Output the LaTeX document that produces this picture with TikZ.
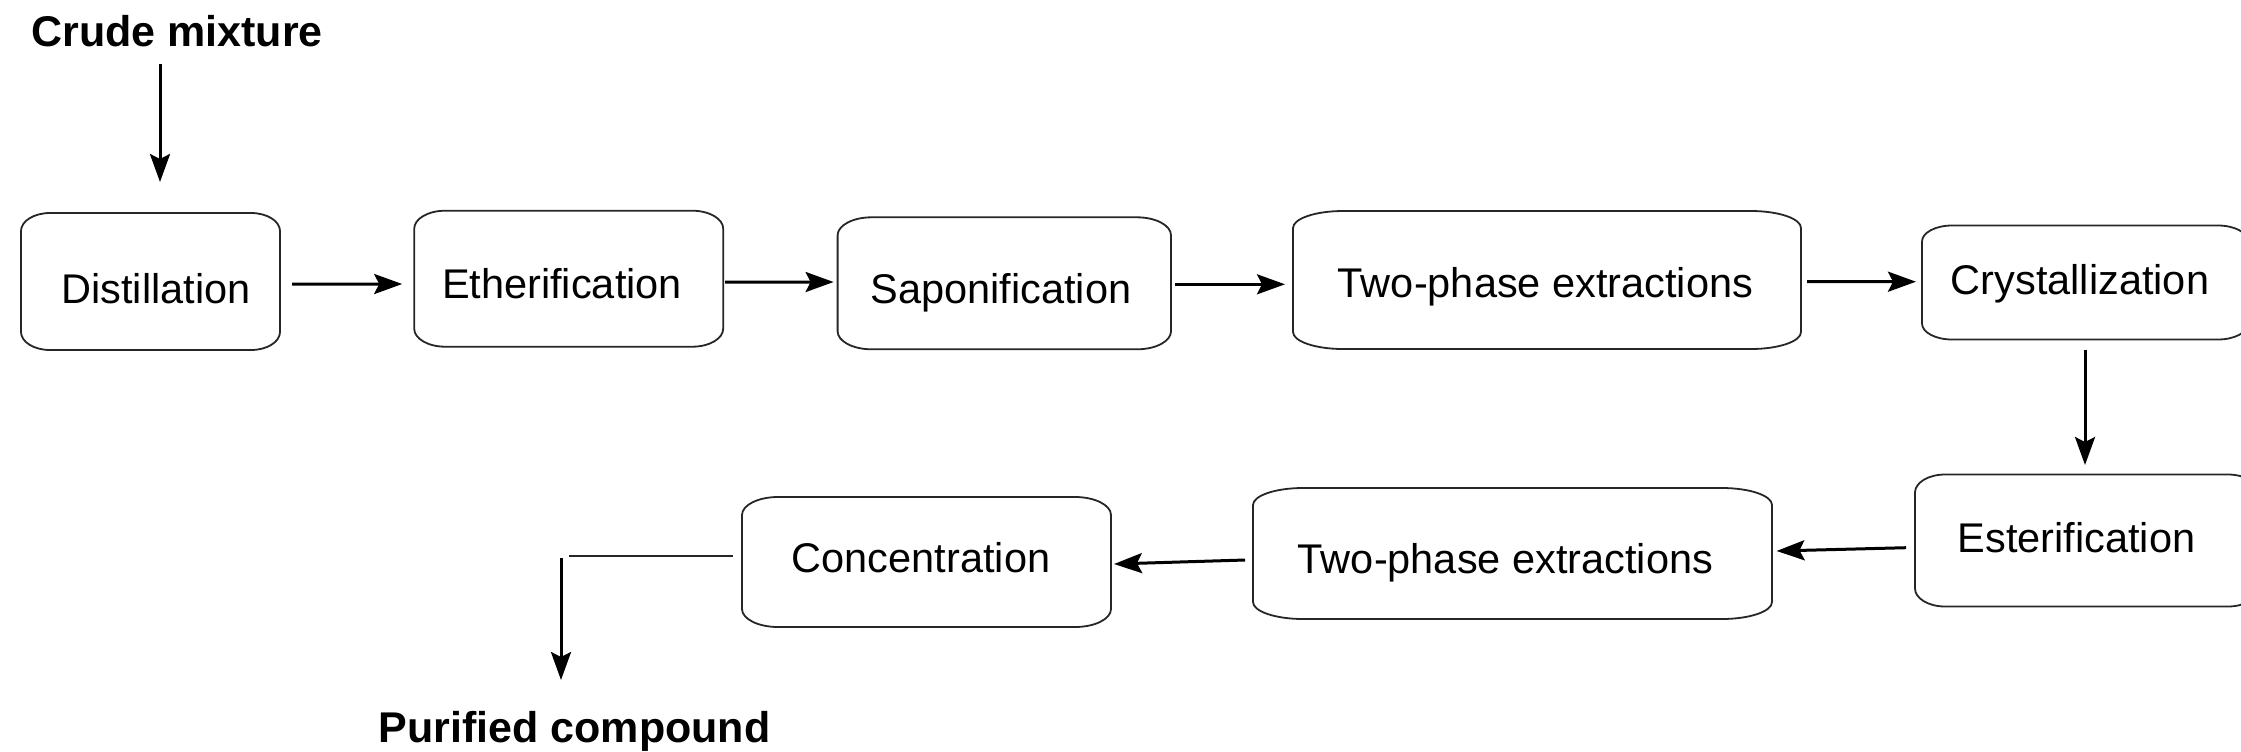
\documentclass[tikz,border=0pt]{standalone}
\usepackage{fontspec}
\setmainfont{Liberation Sans}
\usetikzlibrary{arrows.meta,calc}
\newcommand{\roundbox}[3]{%
  \draw[boxline] ([xshift=#2]#1.north west) -- ([xshift=-#2]#1.north east)
    arc[start angle=90, end angle=0, x radius=#2, y radius=#3]
    -- ([yshift=#3]#1.south east)
    arc[start angle=0, end angle=-90, x radius=#2, y radius=#3]
    -- ([xshift=#2]#1.south west)
    arc[start angle=270, end angle=180, x radius=#2, y radius=#3]
    -- ([yshift=-#3]#1.north west)
    arc[start angle=180, end angle=90, x radius=#2, y radius=#3]
    -- cycle;}
\begin{document}
\begin{tikzpicture}[x=0.5pt,y=-0.5pt,
  stage/.style={inner sep=0pt, outer sep=0pt},
  boxline/.style={draw=black!85, line width=0.9pt},
  lt/.style={font=\fontsize{20.75}{24}\selectfont, inner sep=0pt, text height=0.7em, text depth=0pt},
  lbl/.style={font=\fontsize{21.5}{25}\selectfont\bfseries, inner sep=0pt, anchor=base},
  arr/.style={line width=1.5pt, -{Stealth[length=14pt,width=10pt,inset=2.5pt]}},
  plain/.style={line width=1.1pt, draw=black!85}]
\useasboundingbox (0,0) rectangle (2241,751);

% labels
\node[lbl] (crude) at (177,46.7) {Crude mixture};
\node[lbl] (pur) at (574.5,742.7) {Purified compound};

% stages
\node[stage, minimum width=129.5pt, minimum height=68.5pt,
  label={[lt, xshift=2.75pt, yshift=-7.6pt]center:Distillation}] (dist) at (150.5,281.5) {};
\node[stage, minimum width=154.5pt, minimum height=68pt,
  label={[lt, xshift=-3.35pt, yshift=-6.3pt]center:Etherification}] (eth) at (568.7,278.7) {};
\node[stage, minimum width=166.7pt, minimum height=66pt,
  label={[lt, xshift=-1.65pt, yshift=-6.6pt]center:Saponification}] (sap) at (1004.3,283.3) {};
\node[stage, minimum width=254pt, minimum height=69pt,
  label={[lt, xshift=-0.75pt, yshift=-5.2pt]center:Two-phase extractions}] (two1) at (1547,280) {};
\node[stage, minimum width=163pt, minimum height=57pt,
  label={[lt, xshift=-2.5pt, yshift=-2.6pt]center:Crystallization}] (cryst) at (2085,282.5) {};
\node[stage, minimum width=171.5pt, minimum height=66pt,
  label={[lt, xshift=-5pt, yshift=-2.5pt]center:Esterification}] (ester) at (2086.5,540.5) {};
\node[stage, minimum width=259.5pt, minimum height=65.5pt,
  label={[lt, xshift=-3.5pt, yshift=-6.4pt]center:Two-phase extractions}] (two2) at (1512.5,553.5) {};
\node[stage, minimum width=184.5pt, minimum height=65pt,
  label={[lt, xshift=-2.75pt, yshift=-1.6pt]center:Concentration}] (conc) at (926.5,562) {};

\roundbox{dist}{14.5pt}{9pt}
\roundbox{eth}{15.5pt}{9pt}
\roundbox{sap}{17pt}{9pt}
\roundbox{two1}{25pt}{8.5pt}
\roundbox{cryst}{15pt}{8pt}
\roundbox{ester}{15pt}{9pt}
\roundbox{two2}{25pt}{8.5pt}
\roundbox{conc}{18pt}{9pt}

% free ends
\coordinate (in0) at (160,64);
\coordinate (in1) at (160,182);
\coordinate (k1) at (569,556);
\coordinate (k2) at (561,558);
\coordinate (k3) at (561,680);

% connectors
\draw[arr] (in0) -- (in1);
\draw[arr] ($(dist.east)+(12,2.5)$) -- ($(eth.west)+(-12,5.3)$);
\draw[arr] ($(eth.east)+(2,3.3)$) -- ($(sap.west)+(-4,-1.3)$);
\draw[arr] ($(sap.east)+(4,1)$) -- ($(two1.west)+(-8,4.3)$);
\draw[arr] ($(two1.east)+(6,1.7)$) -- ($(cryst.west)+(-6,-0.8)$);
\draw[arr] ($(cryst.south)+(0,10)$) -- ($(ester.north)+(-1.5,-9.5)$);
\draw[arr] ($(ester.west)+(-9,7.2)$) -- ($(two2.east)+(4.5,-2.5)$);
\draw[arr] ($(two2.west)+(-8,6.5)$) -- ($(conc.east)+(3,2)$);
\draw[plain] ($(conc.west)+(-9,-6)$) -- (k1);
\draw[arr] (k2) -- (k3);
\end{tikzpicture}
\end{document}
